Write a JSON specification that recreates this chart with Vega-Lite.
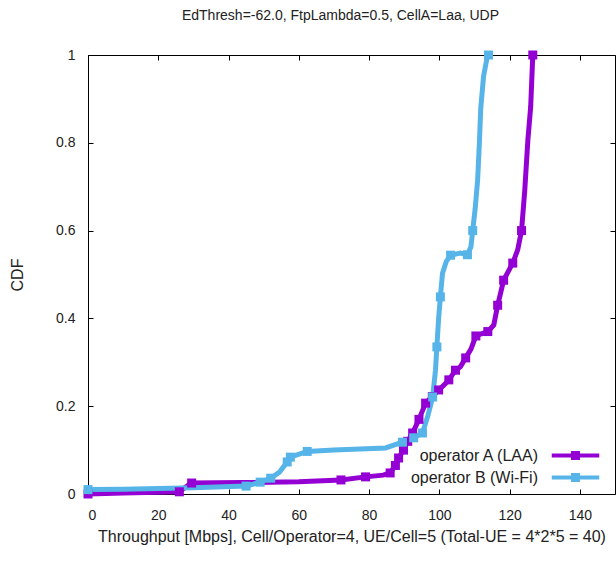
{
  "$schema": "https://vega.github.io/schema/vega-lite/v6.json",
  "width": 527,
  "height": 439,
  "autosize": {"type": "none"},
  "padding": {"left": 88, "top": 55, "right": 1, "bottom": 69},
  "background": "white",
  "title": {"text": "EdThresh=-62.0, FtpLambda=0.5, CellA=Laa, UDP", "fontSize": 14, "font": "Liberation Sans", "fontWeight": "normal", "color": "#222222", "offset": 22, "dx": -11},
  "datasets": {
    "lines": [
      {"s": "operator A (LAA)", "x": 0, "y": 0.0},
      {"s": "operator A (LAA)", "x": 10, "y": 0.002},
      {"s": "operator A (LAA)", "x": 26, "y": 0.005},
      {"s": "operator A (LAA)", "x": 28.5, "y": 0.02},
      {"s": "operator A (LAA)", "x": 29.5, "y": 0.025},
      {"s": "operator A (LAA)", "x": 44, "y": 0.026},
      {"s": "operator A (LAA)", "x": 60, "y": 0.028},
      {"s": "operator A (LAA)", "x": 72, "y": 0.032},
      {"s": "operator A (LAA)", "x": 79, "y": 0.039},
      {"s": "operator A (LAA)", "x": 84, "y": 0.043},
      {"s": "operator A (LAA)", "x": 86, "y": 0.048},
      {"s": "operator A (LAA)", "x": 87.5, "y": 0.065},
      {"s": "operator A (LAA)", "x": 88.4, "y": 0.082},
      {"s": "operator A (LAA)", "x": 89.8, "y": 0.1},
      {"s": "operator A (LAA)", "x": 91, "y": 0.12},
      {"s": "operator A (LAA)", "x": 92.4, "y": 0.139},
      {"s": "operator A (LAA)", "x": 94.2, "y": 0.17},
      {"s": "operator A (LAA)", "x": 96.1, "y": 0.207},
      {"s": "operator A (LAA)", "x": 98, "y": 0.222},
      {"s": "operator A (LAA)", "x": 99.8, "y": 0.237},
      {"s": "operator A (LAA)", "x": 101.3, "y": 0.248},
      {"s": "operator A (LAA)", "x": 102.7, "y": 0.26},
      {"s": "operator A (LAA)", "x": 104.6, "y": 0.282},
      {"s": "operator A (LAA)", "x": 106, "y": 0.29},
      {"s": "operator A (LAA)", "x": 107.5, "y": 0.31},
      {"s": "operator A (LAA)", "x": 109, "y": 0.33},
      {"s": "operator A (LAA)", "x": 110.4, "y": 0.36},
      {"s": "operator A (LAA)", "x": 112, "y": 0.365},
      {"s": "operator A (LAA)", "x": 113.8, "y": 0.37},
      {"s": "operator A (LAA)", "x": 115.5, "y": 0.385},
      {"s": "operator A (LAA)", "x": 116.6, "y": 0.43},
      {"s": "operator A (LAA)", "x": 117.5, "y": 0.46},
      {"s": "operator A (LAA)", "x": 118.3, "y": 0.487},
      {"s": "operator A (LAA)", "x": 120.9, "y": 0.526},
      {"s": "operator A (LAA)", "x": 122.3, "y": 0.556},
      {"s": "operator A (LAA)", "x": 123.4, "y": 0.6},
      {"s": "operator A (LAA)", "x": 124.3, "y": 0.69},
      {"s": "operator A (LAA)", "x": 125.2, "y": 0.806},
      {"s": "operator A (LAA)", "x": 126, "y": 0.882},
      {"s": "operator A (LAA)", "x": 126.6, "y": 1.0},
      {"s": "operator B (Wi-Fi)", "x": 0, "y": 0.01},
      {"s": "operator B (Wi-Fi)", "x": 10, "y": 0.011},
      {"s": "operator B (Wi-Fi)", "x": 30, "y": 0.014},
      {"s": "operator B (Wi-Fi)", "x": 45, "y": 0.018},
      {"s": "operator B (Wi-Fi)", "x": 49, "y": 0.027},
      {"s": "operator B (Wi-Fi)", "x": 52, "y": 0.036},
      {"s": "operator B (Wi-Fi)", "x": 54.5, "y": 0.05},
      {"s": "operator B (Wi-Fi)", "x": 56.7, "y": 0.073},
      {"s": "operator B (Wi-Fi)", "x": 57.6, "y": 0.084},
      {"s": "operator B (Wi-Fi)", "x": 62.4, "y": 0.097},
      {"s": "operator B (Wi-Fi)", "x": 70, "y": 0.1},
      {"s": "operator B (Wi-Fi)", "x": 84.7, "y": 0.105},
      {"s": "operator B (Wi-Fi)", "x": 89.5, "y": 0.118},
      {"s": "operator B (Wi-Fi)", "x": 92.7, "y": 0.128},
      {"s": "operator B (Wi-Fi)", "x": 95.2, "y": 0.139},
      {"s": "operator B (Wi-Fi)", "x": 96.8, "y": 0.18},
      {"s": "operator B (Wi-Fi)", "x": 98.1, "y": 0.221},
      {"s": "operator B (Wi-Fi)", "x": 98.9, "y": 0.282},
      {"s": "operator B (Wi-Fi)", "x": 99.3, "y": 0.335},
      {"s": "operator B (Wi-Fi)", "x": 99.8, "y": 0.4},
      {"s": "operator B (Wi-Fi)", "x": 100.3, "y": 0.449},
      {"s": "operator B (Wi-Fi)", "x": 100.9, "y": 0.503},
      {"s": "operator B (Wi-Fi)", "x": 102, "y": 0.53},
      {"s": "operator B (Wi-Fi)", "x": 103.2, "y": 0.544},
      {"s": "operator B (Wi-Fi)", "x": 106, "y": 0.549},
      {"s": "operator B (Wi-Fi)", "x": 108, "y": 0.545},
      {"s": "operator B (Wi-Fi)", "x": 109, "y": 0.563},
      {"s": "operator B (Wi-Fi)", "x": 109.5, "y": 0.6},
      {"s": "operator B (Wi-Fi)", "x": 110.2, "y": 0.65},
      {"s": "operator B (Wi-Fi)", "x": 110.9, "y": 0.715},
      {"s": "operator B (Wi-Fi)", "x": 111.4, "y": 0.8},
      {"s": "operator B (Wi-Fi)", "x": 111.8, "y": 0.88},
      {"s": "operator B (Wi-Fi)", "x": 112.6, "y": 0.952},
      {"s": "operator B (Wi-Fi)", "x": 113.5, "y": 0.99},
      {"s": "operator B (Wi-Fi)", "x": 114, "y": 1.0}
    ],
    "markers": [
      {"s": "operator A (LAA)", "x": 0, "y": 0.0},
      {"s": "operator A (LAA)", "x": 26, "y": 0.005},
      {"s": "operator A (LAA)", "x": 29.5, "y": 0.025},
      {"s": "operator A (LAA)", "x": 72, "y": 0.032},
      {"s": "operator A (LAA)", "x": 79, "y": 0.039},
      {"s": "operator A (LAA)", "x": 86, "y": 0.048},
      {"s": "operator A (LAA)", "x": 87.5, "y": 0.065},
      {"s": "operator A (LAA)", "x": 88.4, "y": 0.082},
      {"s": "operator A (LAA)", "x": 89.8, "y": 0.1},
      {"s": "operator A (LAA)", "x": 91, "y": 0.12},
      {"s": "operator A (LAA)", "x": 92.4, "y": 0.139},
      {"s": "operator A (LAA)", "x": 94.2, "y": 0.17},
      {"s": "operator A (LAA)", "x": 96.1, "y": 0.207},
      {"s": "operator A (LAA)", "x": 98, "y": 0.222},
      {"s": "operator A (LAA)", "x": 99.8, "y": 0.237},
      {"s": "operator A (LAA)", "x": 102.7, "y": 0.26},
      {"s": "operator A (LAA)", "x": 104.6, "y": 0.282},
      {"s": "operator A (LAA)", "x": 107.5, "y": 0.31},
      {"s": "operator A (LAA)", "x": 110.4, "y": 0.36},
      {"s": "operator A (LAA)", "x": 113.8, "y": 0.37},
      {"s": "operator A (LAA)", "x": 116.6, "y": 0.43},
      {"s": "operator A (LAA)", "x": 118.3, "y": 0.487},
      {"s": "operator A (LAA)", "x": 120.9, "y": 0.526},
      {"s": "operator A (LAA)", "x": 123.4, "y": 0.6},
      {"s": "operator A (LAA)", "x": 126.6, "y": 1.0},
      {"s": "operator B (Wi-Fi)", "x": 0, "y": 0.01},
      {"s": "operator B (Wi-Fi)", "x": 45, "y": 0.018},
      {"s": "operator B (Wi-Fi)", "x": 49, "y": 0.027},
      {"s": "operator B (Wi-Fi)", "x": 52, "y": 0.036},
      {"s": "operator B (Wi-Fi)", "x": 56.7, "y": 0.073},
      {"s": "operator B (Wi-Fi)", "x": 57.6, "y": 0.084},
      {"s": "operator B (Wi-Fi)", "x": 62.4, "y": 0.097},
      {"s": "operator B (Wi-Fi)", "x": 89.5, "y": 0.118},
      {"s": "operator B (Wi-Fi)", "x": 92.7, "y": 0.128},
      {"s": "operator B (Wi-Fi)", "x": 95.2, "y": 0.139},
      {"s": "operator B (Wi-Fi)", "x": 98.1, "y": 0.221},
      {"s": "operator B (Wi-Fi)", "x": 99.3, "y": 0.335},
      {"s": "operator B (Wi-Fi)", "x": 100.3, "y": 0.449},
      {"s": "operator B (Wi-Fi)", "x": 103.2, "y": 0.544},
      {"s": "operator B (Wi-Fi)", "x": 108, "y": 0.545},
      {"s": "operator B (Wi-Fi)", "x": 109.5, "y": 0.6},
      {"s": "operator B (Wi-Fi)", "x": 114, "y": 1.0}
    ]
  },
  "config": {
    "view": {"stroke": "black", "strokeWidth": 1},
    "axis": {
      "grid": false, "domain": false, "tickColor": "black", "tickSize": -5, "tickWidth": 1,
      "labelFont": "Liberation Sans", "labelFontSize": 14, "labelColor": "#222222",
      "titleFont": "Liberation Sans", "titleFontSize": 16, "titleFontWeight": "normal", "titleColor": "#222222"
    },
    "legend": {
      "labelFont": "Liberation Sans", "labelFontSize": 16, "labelColor": "#222222"
    }
  },
  "layer": [
    {
      "data": {"name": "lines"},
      "mark": {"type": "line", "strokeWidth": 5},
      "encoding": {
        "x": {"field": "x", "type": "quantitative", "scale": {"domain": [0, 150], "nice": false},
          "axis": {"orient": "bottom", "values": [0, 20, 40, 60, 80, 100, 120, 140], "title": "Throughput [Mbps], Cell/Operator=4, UE/Cell=5 (Total-UE = 4*2*5 = 40)", "labelPadding": 19, "titlePadding": 6}},
        "y": {"field": "y", "type": "quantitative", "scale": {"domain": [0, 1], "nice": false},
          "axis": {"orient": "left", "values": [0, 0.2, 0.4, 0.6, 0.8, 1], "labelExpr": "datum.value == 0 ? '0' : datum.value == 1 ? '1' : format(datum.value, '.1f')", "title": "CDF", "labelPadding": 18, "titlePadding": 30}},
        "color": {"field": "s", "type": "nominal",
          "scale": {"domain": ["operator A (LAA)", "operator B (Wi-Fi)"], "range": ["#9400D3", "#56B4E9"]},
          "legend": {"title": null, "orient": "none", "legendX": 476, "legendY": 389,
            "symbolType": "M-2.5,0H2.5M-0.26,-0.26H0.26V0.26H-0.26Z", "symbolSize": 361, "symbolStrokeWidth": 4,
            "labelAlign": "right", "labelOffset": -49, "rowPadding": 0}}
      }
    },
    {
      "data": {"name": "markers"},
      "mark": {"type": "point", "shape": "square", "filled": true, "size": 81, "opacity": 1},
      "encoding": {
        "x": {"field": "x", "type": "quantitative", "axis": {"orient": "top", "values": [0, 20, 40, 60, 80, 100, 120, 140], "labels": false, "title": null}},
        "y": {"field": "y", "type": "quantitative", "axis": {"orient": "right", "values": [0, 0.2, 0.4, 0.6, 0.8, 1], "labels": false, "title": null}},
        "color": {"field": "s", "type": "nominal", "legend": null}
      }
    }
  ],
  "resolve": {"axis": {"x": "independent", "y": "independent"}}
}
